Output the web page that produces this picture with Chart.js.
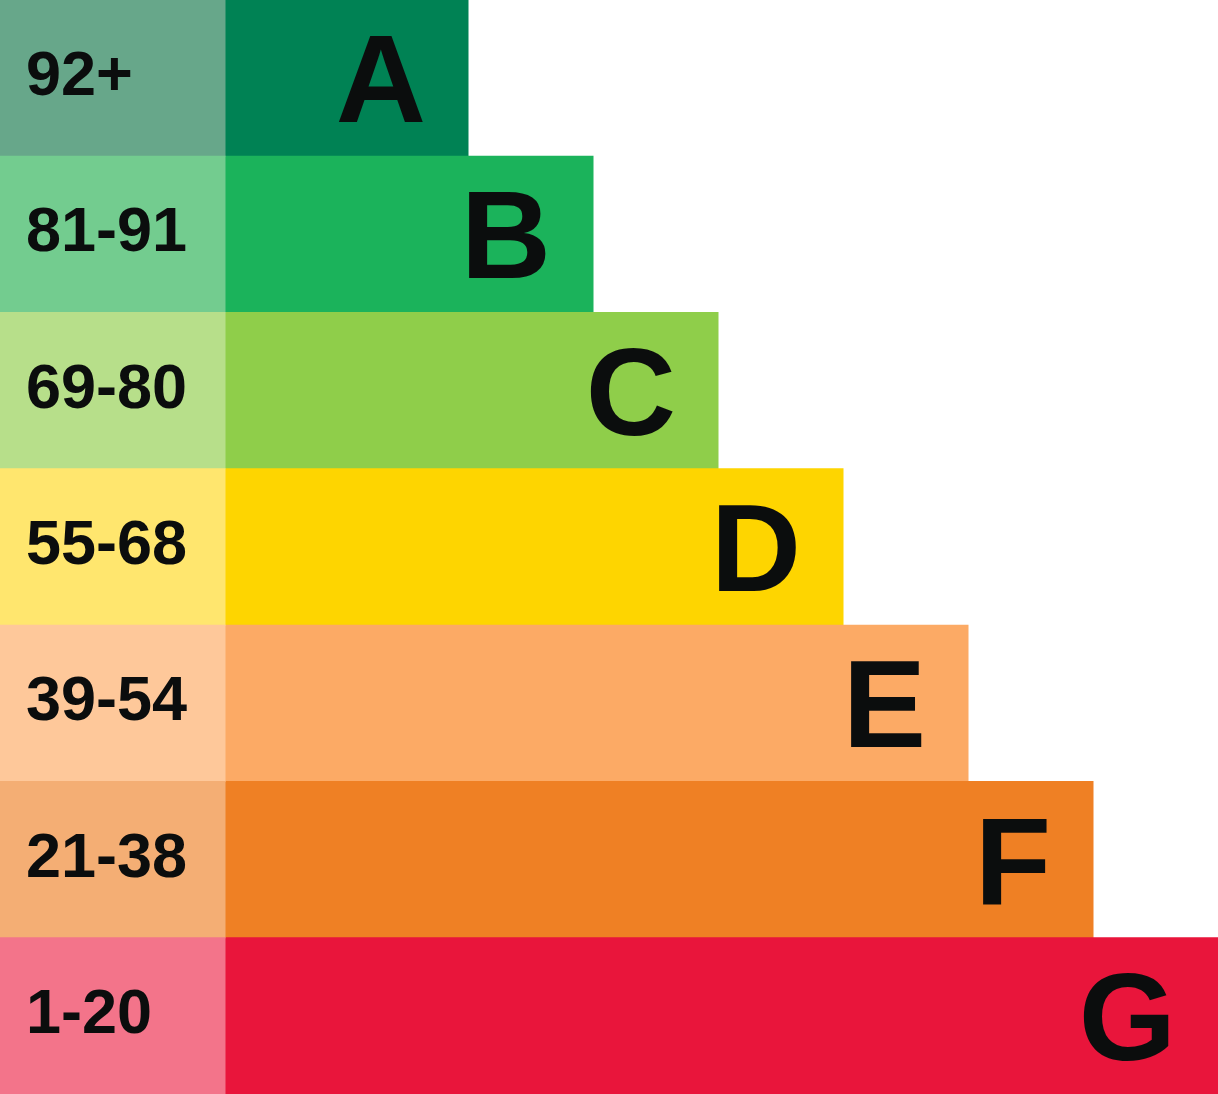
<!DOCTYPE html>
<html>
<head>
<meta charset="utf-8">
<script src="https://cdn.jsdelivr.net/npm/chart.js@4/dist/chart.umd.min.js"></script>
<style>
  html, body { margin: 0; padding: 0; background: #fff; }
  canvas { display: block; }
</style>
</head>
<body>
<canvas id="epc" width="1218" height="1094"></canvas>
<script>
// score bands and ratings, top to bottom
const bands = ["92+", "81-91", "69-80", "55-68", "39-54", "21-38", "1-20"];
const ratings = ["A", "B", "C", "D", "E", "F", "G"];
// width of the band column and where each rating bar ends (chart units)
const bandSpan = [225, 225, 225, 225, 225, 225, 225];
const barEnd = [468, 593, 718, 843, 968, 1093, 1218];

const bandColors = ["#67a78a", "#73cc8f", "#b7df8a", "#ffe66e", "#fec89a", "#f4ae74", "#f3748a"];
const barColors = ["#008254", "#1bb35b", "#8fce4a", "#fed500", "#fcaa65", "#ef8024", "#e9153b"];

const labelPlugin = {
  id: "epcLabels",
  afterDatasetsDraw(chart) {
    const c = chart.ctx;
    c.save();
    c.fillStyle = "#0b0d0d";
    c.textBaseline = "alphabetic";
    // band ranges on the left
    c.font = "bold 63px 'Liberation Sans', Arial, sans-serif";
    c.textAlign = "left";
    chart.getDatasetMeta(0).data.forEach((bar, i) => {
      c.fillText(bands[i], 26, bar.y + 17);
    });
    // rating letters, right aligned inside each bar
    c.font = "bold 125px 'Liberation Sans', Arial, sans-serif";
    c.textAlign = "right";
    chart.getDatasetMeta(1).data.forEach((bar, i) => {
      c.fillText(ratings[i], bar.x - 42, bar.y + 44);
    });
    c.restore();
  }
};

new Chart(document.getElementById("epc"), {
  type: "bar",
  data: {
    labels: ratings,
    datasets: [
      {
        label: "band",
        data: bandSpan,
        backgroundColor: bandColors,
        borderWidth: 0
      },
      {
        label: "rating",
        data: barEnd.map((v, i) => v - bandSpan[i]),
        backgroundColor: barColors,
        borderWidth: 0
      }
    ]
  },
  options: {
    indexAxis: "y",
    responsive: false,
    animation: false,
    devicePixelRatio: 1,
    layout: {padding: 0},
    datasets: {bar: {categoryPercentage: 1, barPercentage: 1, inflateAmount: 0.5}},
    scales: {
      x: {stacked: true, min: 0, max: 1218, display: false},
      y: {stacked: true, display: false}
    },
    plugins: {legend: {display: false}, tooltip: {enabled: false}}
  },
  plugins: [labelPlugin]
});
</script>
</body>
</html>
